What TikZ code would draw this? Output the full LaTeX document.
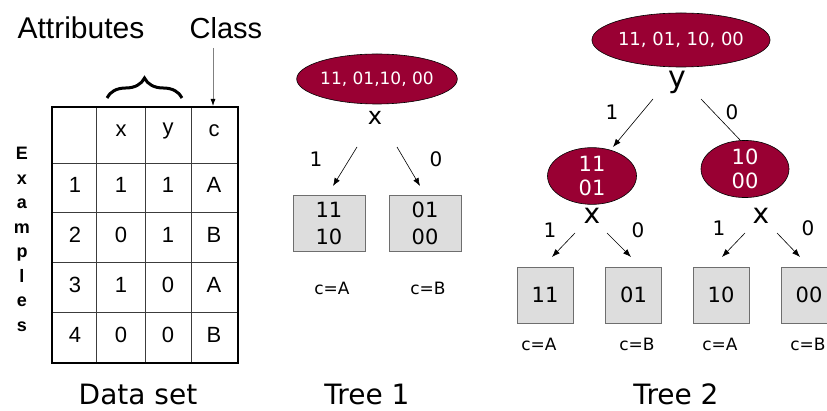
\documentclass[tikz,border=0pt]{standalone}
\usepackage{fontspec}
\setmainfont{Liberation Sans}
\newfontfamily\tah{DejaVu Sans}
\usetikzlibrary{shapes.geometric,arrows.meta,decorations.pathreplacing}
\definecolor{crim}{RGB}{153,0,51}
\definecolor{leafgray}{RGB}{221,221,221}
\definecolor{leafborder}{RGB}{110,110,110}
\definecolor{gridgray}{RGB}{60,60,60}
\newcommand{\fs}[2]{\fontsize{#1}{#2}\selectfont}
\begin{document}
\begin{tikzpicture}[x=1pt,y=-1pt,
  rootell/.style={ellipse,draw=black,line width=0.6pt,fill=crim,text=white,inner sep=0pt,font=\tah\fs{17}{19}},
  kidell/.style={ellipse,draw=black,line width=0.6pt,fill=crim,text=white,inner sep=0pt,align=center,font=\tah\fs{21}{24.5}},
  leaf/.style={rectangle,draw=leafborder,line width=0.8pt,fill=leafgray,inner sep=0pt,align=center,font=\tah\fs{21}{27}},
  split/.style={inner sep=0pt,anchor=base,font=\tah\fs{24}{26}},
  edgel/.style={inner sep=0pt,font=\tah\fs{20}{22}},
  cl/.style={inner sep=0pt,font=\tah\fs{17}{19}},
  cell/.style={inner sep=0pt,font=\fs{22}{24}},
  arr/.style={line width=0.6pt,-{Latex[length=8pt,width=6pt]}},
  title/.style={inner sep=0pt,anchor=base,text depth=0pt,font=\tah\fs{28}{30}}
]
\useasboundingbox (0,0) rectangle (827,411);
\clip (0,0) rectangle (827,411);

% ---------- Data set ----------
\node[inner sep=0pt,font=\fs{30}{32}] (attr) at (81,28) {Attributes};
\node[inner sep=0pt,font=\fs{29}{31}] (class) at (226,28) {Class};
\coordinate (classtop) at (213,48);
\coordinate (classtip) at (213,106);
\draw[gray,line width=0.8pt,-{Latex[black,length=7pt,width=5pt]}] (classtop) -- (classtip);
\draw[decorate,decoration={brace,amplitude=20pt},line width=3pt] (107,98) -- (182,98);

\draw[gridgray,line width=1pt] (96,107) -- (96,363) (145,107) -- (145,363) (191,107) -- (191,363)
  (52,164) -- (238,164) (52,213) -- (238,213) (52,263) -- (238,263) (52,313) -- (238,313);
\draw[black,line width=2.4pt] (52,107) rectangle (238,363);

\node[cell] (hx) at (121,131) {x};
\node[cell] (hy) at (168,131) {y};
\node[cell] (hc) at (214,131) {c};
\node[cell] (r1a) at (75,185) {1}; \node[cell] (r1b) at (121,185) {1}; \node[cell] (r1c) at (168,185) {1}; \node[cell] (r1d) at (214,185) {A};
\node[cell] (r2a) at (75,235) {2}; \node[cell] (r2b) at (121,235) {0}; \node[cell] (r2c) at (168,235) {1}; \node[cell] (r2d) at (214,235) {B};
\node[cell] (r3a) at (75,285) {3}; \node[cell] (r3b) at (121,285) {1}; \node[cell] (r3c) at (168,285) {0}; \node[cell] (r3d) at (214,285) {A};
\node[cell] (r4a) at (75,335) {4}; \node[cell] (r4b) at (121,335) {0}; \node[cell] (r4c) at (168,335) {0}; \node[cell] (r4d) at (214,335) {B};

\node[inner sep=0pt,anchor=north,align=center,font=\bfseries\fs{18}{24.5}] (examples) at (22,147) {E\\x\\a\\m\\p\\l\\e\\s};

\node[title] (dataset) at (138,404) {Data set};

% ---------- Tree 1 ----------
\node[rootell,minimum width=121pt,minimum height=50pt] (t1root) at (377,79) {11, 01,10, 00};
\node[split] (t1x) at (375,125) {x};
\coordinate (t1s1) at (357,147); \coordinate (t1e1) at (333,186);
\coordinate (t1s2) at (397,147); \coordinate (t1e2) at (420,186);
\draw[arr] (t1s1) -- (t1e1);
\draw[arr] (t1s2) -- (t1e2);
\node[edgel] (t1l1) at (316,159) {1};
\node[edgel] (t1l0) at (436,159) {0};
\node[leaf,minimum width=72pt,minimum height=56pt] (t1L) at (329,223) {11\\10};
\node[leaf,minimum width=72pt,minimum height=56pt] (t1R) at (425,223) {01\\00};
\node[cl] (t1cA) at (332,288) {c=A};
\node[cl] (t1cB) at (428,288) {c=B};
\node[title] (tree1) at (367,404) {Tree 1};

% ---------- Tree 2 ----------
\coordinate (t2s0) at (701,99); \coordinate (t2e0) at (741,141);
\draw[line width=0.6pt] (t2s0) -- (t2e0);
\coordinate (t2s1) at (653,99); \coordinate (t2e1) at (613,147);
\draw[arr] (t2s1) -- (t2e1);
\node[rootell,minimum width=120pt,minimum height=54pt,font=\tah\fs{18}{20}] (t2root) at (681,40) {11, 01, 10, 00};
\node[split,font=\tah\fs{30}{32}] (t2y) at (677,88) {y};
\node[edgel] (t2l1) at (612,112) {1};
\node[edgel] (t2l0) at (732,112) {0};
\node[kidell,minimum width=89pt,minimum height=55pt] (t2A) at (592,176) {11\\01};
\node[kidell,minimum width=88pt,minimum height=56pt] (t2B) at (745,169) {10\\00};
\node[split,font=\tah\fs{28}{30}] (t2xA) at (592,224) {x};
\node[split,font=\tah\fs{28}{30}] (t2xB) at (761,224) {x};

\coordinate (t2a1s) at (575,233); \coordinate (t2a1e) at (552,257);
\coordinate (t2a2s) at (607,233); \coordinate (t2a2e) at (631,257);
\coordinate (t2b1s) at (745,233); \coordinate (t2b1e) at (722,257);
\coordinate (t2b2s) at (777,233); \coordinate (t2b2e) at (800,257);
\draw[arr] (t2a1s) -- (t2a1e);
\draw[arr] (t2a2s) -- (t2a2e);
\draw[arr] (t2b1s) -- (t2b1e);
\draw[arr] (t2b2s) -- (t2b2e);
\node[edgel] (t2al1) at (550,230) {1};
\node[edgel] (t2al0) at (638,230) {0};
\node[edgel] (t2bl1) at (719,228) {1};
\node[edgel] (t2bl0) at (808,228) {0};

\node[leaf,minimum width=56pt,minimum height=56pt] (lf1) at (545,295) {11};
\node[leaf,minimum width=56pt,minimum height=56pt] (lf2) at (633.5,295) {01};
\node[leaf,minimum width=56pt,minimum height=56pt] (lf3) at (721,295) {10};
\node[leaf,minimum width=56pt,minimum height=56pt] (lf4) at (809,295) {00};
\node[cl] (c1) at (539,344) {c=A};
\node[cl] (c2) at (637,344) {c=B};
\node[cl] (c3) at (720,344) {c=A};
\node[cl] (c4) at (808,344) {c=B};
\node[title] (tree2) at (676,404) {Tree 2};
\end{tikzpicture}
\end{document}
